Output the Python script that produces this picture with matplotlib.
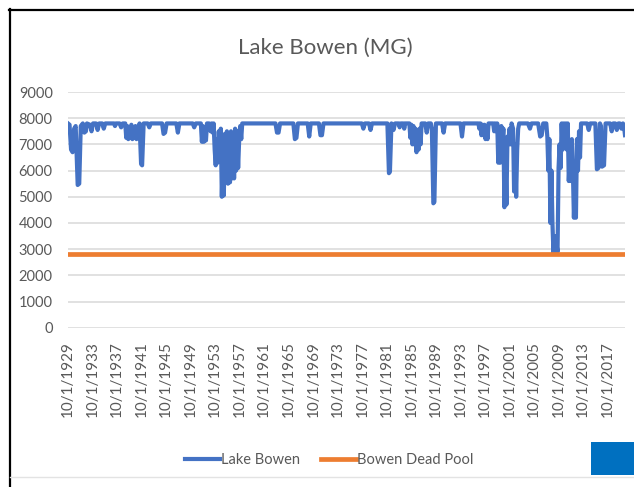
import numpy as np
import pandas as pd
import matplotlib
matplotlib.use("Agg")
import matplotlib.pyplot as plt
from matplotlib.lines import Line2D
from matplotlib.patches import Rectangle

# Lake Bowen storage (million gallons), month by month where the level turns
months = [
    "1929-10", "1930-01", "1930-04", "1930-07", "1930-10", "1931-01", "1931-05", "1931-08", "1931-11", "1932-03",
    "1932-06", "1932-09", "1932-11", "1933-05", "1933-08", "1933-11", "1934-05", "1934-08", "1934-11", "1935-05",
    "1935-08", "1935-11", "1937-04", "1937-06", "1937-08", "1938-03", "1938-06", "1938-09", "1939-02", "1939-04",
    "1939-06", "1939-08", "1939-10", "1939-12", "1940-02", "1940-04", "1940-06", "1940-08", "1940-10", "1940-12",
    "1941-02", "1941-04", "1941-06", "1941-09", "1941-11", "1942-02", "1942-10", "1943-01", "1943-04", "1945-02",
    "1945-05", "1945-08", "1945-11", "1947-06", "1947-09", "1947-12", "1950-02", "1950-05", "1950-08", "1951-06",
    "1951-08", "1951-10", "1951-12", "1952-02", "1952-04", "1952-06", "1952-10", "1953-01", "1953-03", "1953-05",
    "1953-07", "1953-09", "1953-11", "1954-01", "1954-03", "1954-05", "1954-07", "1954-09", "1954-11", "1955-01",
    "1955-03", "1955-05", "1955-07", "1955-09", "1955-11", "1956-01", "1956-03", "1956-05", "1956-07", "1956-09",
    "1956-11", "1957-01", "1957-03", "1957-05", "1957-07", "1957-09", "1957-11", "1958-01", "1958-03", "1963-08",
    "1963-11", "1964-02", "1964-05", "1966-07", "1966-10", "1967-01", "1967-04", "1968-11", "1969-02", "1969-05",
    "1970-09", "1970-12", "1971-03", "1971-06", "1977-09", "1977-12", "1978-03", "1978-11", "1979-02", "1979-05",
    "1981-11", "1982-02", "1982-04", "1982-07", "1982-11", "1983-02", "1983-09", "1983-11", "1984-01", "1984-06",
    "1984-08", "1984-10", "1985-06", "1985-08", "1985-10", "1985-12", "1986-02", "1986-04", "1986-06", "1986-08",
    "1986-10", "1986-12", "1987-02", "1987-04", "1987-06", "1988-01", "1988-04", "1988-07", "1988-12", "1989-02",
    "1989-05", "1989-07", "1989-10", "1990-10", "1991-01", "1991-04", "1993-10", "1994-01", "1994-04", "1996-09",
    "1996-11", "1997-01", "1997-03", "1997-05", "1997-07", "1997-09", "1997-11", "1998-01", "1998-03", "1998-05",
    "1999-02", "1999-04", "1999-06", "1999-08", "1999-10", "1999-12", "2000-02", "2000-04", "2000-06", "2000-08",
    "2000-10", "2000-12", "2001-02", "2001-04", "2001-06", "2001-08", "2001-10", "2001-12", "2002-02", "2002-05",
    "2002-07", "2002-09", "2002-11", "2003-01", "2003-03", "2003-05", "2004-10", "2005-02", "2005-05", "2006-06",
    "2006-10", "2007-01", "2007-04", "2007-10", "2007-12", "2008-02", "2008-04", "2008-06", "2008-08", "2008-10",
    "2008-12", "2009-02", "2009-04", "2009-06", "2009-08", "2009-10", "2009-12", "2010-02", "2010-04", "2010-06",
    "2010-08", "2010-10", "2010-12", "2011-02", "2011-04", "2011-06", "2011-08", "2011-10", "2011-12", "2012-02",
    "2012-04", "2012-06", "2012-08", "2012-10", "2012-12", "2013-02", "2013-04", "2013-06", "2014-06", "2014-09",
    "2014-12", "2015-10", "2016-01", "2016-04", "2016-07", "2016-09", "2016-11", "2017-03", "2017-06", "2018-03",
    "2018-06", "2018-09", "2019-01", "2019-04", "2019-07", "2019-10", "2020-01", "2020-04", "2020-06", "2020-08",
]
storage = [
    7800, 7750, 6800, 6700, 7600, 7700, 5450, 5500, 7700, 7800,
    7450, 7500, 7800, 7750, 7500, 7800, 7800, 7550, 7800, 7800,
    7600, 7800, 7800, 7700, 7800, 7800, 7650, 7800, 7800, 7250,
    7700, 7200, 7650, 7250, 7750, 7200, 7600, 7250, 7700, 7200,
    7600, 7300, 7800, 6250, 6200, 7800, 7800, 7650, 7800, 7800,
    7400, 7450, 7800, 7800, 7450, 7800, 7800, 7650, 7800, 7800,
    7100, 7700, 7100, 7650, 7150, 7800, 7800, 7500, 7800, 7450,
    7800, 6800, 6200, 7200, 6300, 7500, 7000, 7600, 5000, 6500,
    5050, 7400, 6900, 7500, 5500, 7300, 5550, 7500, 5700, 7400,
    5700, 7600, 6000, 7500, 6100, 7200, 7700, 7200, 7800, 7800,
    7450, 7450, 7800, 7800, 7200, 7250, 7800, 7800, 7300, 7800,
    7800, 7350, 7350, 7800, 7800, 7600, 7800, 7800, 7550, 7800,
    7800, 5900, 5950, 7800, 7550, 7800, 7800, 7650, 7800, 7800,
    7600, 7800, 7800, 7250, 7750, 7000, 7700, 7000, 7600, 6700,
    7500, 6800, 7600, 7000, 7800, 7800, 7450, 7800, 7800, 7600,
    4750, 4800, 7800, 7800, 7450, 7800, 7800, 7300, 7800, 7800,
    7600, 7800, 7350, 7750, 7350, 7750, 7200, 7700, 7200, 7800,
    7800, 7500, 7800, 7500, 7800, 6300, 7600, 6300, 7700, 6950,
    7600, 4600, 6500, 4700, 7300, 7000, 7600, 7000, 7800, 7600,
    5200, 7000, 5000, 6800, 7600, 7800, 7800, 7600, 7800, 7800,
    7300, 7350, 7800, 7800, 7300, 6000, 7200, 4000, 6000, 4000,
    2850, 3500, 2850, 3200, 2900, 6100, 7000, 6100, 7800, 6800,
    7800, 6900, 7800, 6800, 7800, 5600, 6500, 5600, 7200, 6000,
    4200, 5500, 4200, 7200, 6000, 7500, 6500, 7800, 7800, 7550,
    7800, 7800, 6050, 6100, 7800, 7700, 6150, 6200, 7800, 7800,
    7500, 7800, 7800, 7550, 7800, 7800, 7600, 7800, 7700, 7350,
]
dead_pool = 2800

tick_years = list(range(1929, 2018, 4))
tick_labels = [f"10/1/{y}" for y in tick_years]
y_ticks = list(range(0, 9001, 1000))

dates = pd.to_datetime(months)
tick_dates = pd.to_datetime([f"{y}-10-01" for y in tick_years])

font = ["Lato", "DejaVu Sans"]
grey = "#595959"

fig = plt.figure(figsize=(6.34, 4.87), dpi=100)
ax = fig.add_axes([68 / 634, 1 - 327.7 / 487, 557 / 634, (327.7 - 92) / 487])

ax.plot(dates, storage, color="#4472C4", linewidth=3.0, solid_joinstyle="round",
        label="Lake Bowen")
ax.plot([dates[0], dates[-1]], [dead_pool, dead_pool], color="#ED7D31", linewidth=3.4,
        label="Bowen Dead Pool")

ax.set_xlim(dates[0], dates[-1])
ax.set_ylim(0, 9000)
ax.set_yticks(y_ticks)
ax.set_yticklabels([str(v) for v in y_ticks], fontfamily=font, fontsize=10.5, color=grey)
ax.set_xticks(tick_dates)
ax.set_xticklabels(tick_labels, rotation=90, fontfamily=font, fontsize=11, color=grey)
ax.tick_params(axis="both", length=0)
ax.tick_params(axis="y", pad=11)
ax.tick_params(axis="x", pad=10)
ax.grid(axis="y", color="#D9D9D9", linewidth=1.1)
ax.set_axisbelow(True)
for s in ax.spines.values():
    s.set_visible(False)

fig.text(325 / 634, 1 - 48 / 487, "Lake Bowen (MG)", ha="center", va="center",
         fontfamily=font, fontsize=16, color=grey)

fig.legend(loc="center", bbox_to_anchor=(329 / 634, 1 - 460 / 487), ncol=2, frameon=False,
           prop={"family": font, "size": 10.5}, labelcolor=grey, handlelength=2.4,
           handletextpad=0.1, columnspacing=1.4)

# outer chart frame and the corner block
fig.add_artist(Line2D([9.5 / 634, 9.5 / 634], [0, 1 - 9 / 487], color="black",
                      linewidth=1.6, transform=fig.transFigure))
fig.add_artist(Line2D([9 / 634, 1], [1 - 9.5 / 487, 1 - 9.5 / 487], color="black",
                      linewidth=1.6, transform=fig.transFigure))
fig.add_artist(Line2D([10 / 634, 1], [1 - 477 / 487, 1 - 477 / 487], color="#E3E3E3",
                      linewidth=1, transform=fig.transFigure))
fig.add_artist(Rectangle((591 / 634, 1 - 475 / 487), 43 / 634, 33 / 487,
                         facecolor="#0070C0", edgecolor="none", transform=fig.transFigure))

fig.savefig("out.png", dpi=100)
